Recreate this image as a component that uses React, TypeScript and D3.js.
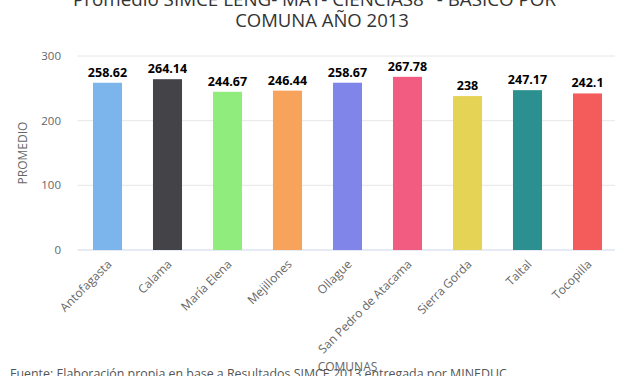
import React from "react";
import * as d3 from "d3";

const categories = ["Antofagasta", "Calama", "María Elena", "Mejillones", "Ollague", "San Pedro de Atacama", "Sierra Gorda", "Taltal", "Tocopilla"];
const values = [258.62, 264.14, 244.67, 246.44, 258.67, 267.78, 238, 247.17, 242.1];
const valueLabels = ["258.62", "264.14", "244.67", "246.44", "258.67", "267.78", "238", "247.17", "242.1"];
const colors = ["#7cb5ec", "#434348", "#90ed7d", "#f7a35c", "#8085e9", "#f15c80", "#e4d354", "#2b908f", "#f45b5b"];
const yTicks = [0, 100, 200, 300];
const titleLines = ["Promedio SIMCE LENG- MAT- CIENCIAS8° - BASICO POR", "COMUNA AÑO 2013"];
const xTitle = "COMUNAS";
const yTitle = "PROMEDIO";
const source = "Fuente: Elaboración propia en base a Resultados SIMCE 2013 entregada por MINEDUC";

const W = 627, H = 376;
const left = 77.5, right = 617.5, top = 56, bottom = 250;
const font = "'Open Sans', 'DejaVu Sans', sans-serif";

export default function App() {
  const x = d3.scaleBand<string>().domain(categories).range([left, right]).paddingInner(0.516).paddingOuter(0.258);
  const y = d3.scaleLinear().domain([0, 300]).range([bottom, top]);
  return (
    <svg width={W} height={H} style={{ position: "absolute", left: 0, top: 0, background: "#fff" }} fontFamily={font}>
      <rect width={W} height={H} fill="#fff" />
      <text x={314.5} y={6} textAnchor="middle" fontSize={18.8} fill="#333">{titleLines[0]}</text>
      <text x={322} y={27} textAnchor="middle" fontSize={18.5} fill="#333">{titleLines[1]}</text>
      {yTicks.map(t => (
        <g key={t}>
          <line x1={left} x2={615} y1={y(t)} y2={y(t)} stroke={t === 0 ? "#ccd6eb" : "#e6e6e6"} strokeWidth={1} />
          <text x={61} y={y(t) + 4} textAnchor="end" fontSize={11.5} fill="#666">{t}</text>
        </g>
      ))}
      <text transform={`translate(27,${(top + bottom) / 2}) rotate(-90)`} textAnchor="middle" fontSize={12} fill="#666">{yTitle}</text>
      {categories.map((c, i) => {
        const bx = x(c)!;
        const bw = x.bandwidth();
        const cx = bx + bw / 2;
        return (
          <g key={c}>
            <rect x={bx} y={y(values[i])} width={bw} height={bottom - y(values[i])} fill={colors[i]} />
            <text x={cx} y={y(values[i]) - 6} textAnchor="middle" fontSize={12.5} fontWeight="bold" fill="#000">{valueLabels[i]}</text>
            <text transform={`translate(${cx + 5},${bottom + 15}) rotate(-45)`} textAnchor="end" fontSize={12} fill="#666">{c}</text>
          </g>
        );
      })}
      <text x={(left + right) / 2} y={371} textAnchor="middle" fontSize={12} fill="#666">{xTitle}</text>
      <text x={10} y={378} fontSize={12.4} fill="#555">{source}</text>
    </svg>
  );
}
